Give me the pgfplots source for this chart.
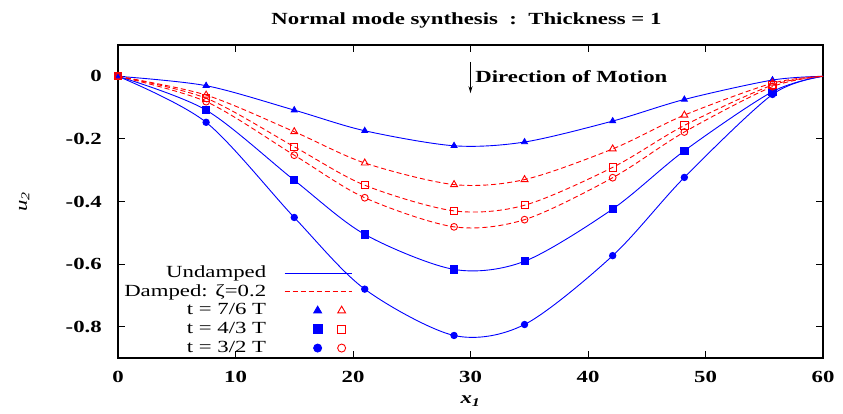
\documentclass[border=0pt]{standalone}
\usepackage{fontspec}
\setmainfont{Liberation Serif}[FakeStretch=1.34]
\usepackage{pgfplots}
\usepackage{pgfplotstable}
\pgfplotsset{compat=1.18}
\usetikzlibrary{arrows.meta}

% u_2 along the plate at three instants: undamped (u*) and damped, zeta=0.2 (d*)
% columns: t = 7/6 T (t), 4/3 T (s), 3/2 T (c)
\pgfplotstableread{
x     ut      us      uc      dt      ds      dc
0     0       0       0       0       0       0
7.5   -0.030  -0.108  -0.147  -0.060  -0.070  -0.081
15.0  -0.108  -0.332  -0.451  -0.177  -0.225  -0.252
21.0  -0.174  -0.505  -0.680  -0.277  -0.348  -0.388
28.6  -0.222  -0.617  -0.828  -0.346  -0.430  -0.481
34.6  -0.210  -0.591  -0.793  -0.330  -0.412  -0.458
42.1  -0.143  -0.424  -0.573  -0.232  -0.291  -0.324
48.2  -0.074  -0.238  -0.323  -0.124  -0.157  -0.178
55.7  -0.012  -0.049  -0.058  -0.022  -0.028  -0.033
60    0       0       0       0       0       0
}\modes

\definecolor{ublue}{RGB}{0,0,255}
\definecolor{dred}{RGB}{255,0,0}

\begin{document}
\begin{tikzpicture}
\begin{axis}[
  scale only axis,
  width=705pt, height=313pt,
  xmin=0, xmax=60, ymin=-0.9, ymax=0.1,
  xtick={0,10,...,60},
  ytick={-0.8,-0.6,-0.4,-0.2,0},
  tick align=inside,
  major tick length=7pt,
  axis line style={line width=1.2pt},
  tick style={black, line width=0.8pt},
  /pgf/number format/assume math mode=true,
  ticklabel style={font=\fontsize{17}{19}\selectfont\bfseries},
  yticklabel style={/pgf/number format/fixed, /pgf/number format/precision=1,
    inner sep=0pt, anchor=east, xshift=-16pt},
  xticklabel style={inner sep=0pt, anchor=north, yshift=-13pt},
  title={Normal mode synthesis\ \ :\ \ Thickness = 1},
  title style={font=\fontsize{17}{19}\selectfont\bfseries,
    at={(axis description cs:0.5,1)}, anchor=center, yshift=19pt, xshift=-4pt},
  xlabel={\textbf{\textit{x\textsubscript{1}}}},
  ylabel={\textit{u\textsubscript{2}}},
  every axis x label/.style={at={(axis description cs:0.5,0)}, anchor=center,
    yshift=-43pt, font=\fontsize{17}{19}\selectfont},
  every axis y label/.style={at={(axis description cs:-0.133,0.5)}, anchor=center,
    rotate=90, font=\fontsize{17}{19}\selectfont},
  legend plot pos=right,
  legend cell align=right,
  legend style={at={(axis cs:20.2,-0.9)}, anchor=south east, draw=none, fill=none,
    font=\fontsize{17}{19}\selectfont, row sep=3.2pt, column sep=18pt,
    nodes={inner sep=0pt, text height=12pt, text depth=3.5pt}},
  every axis plot/.append style={line width=0.9pt},
]
% undamped
\addplot[ublue, smooth, forget plot] table[x=x, y=ut] {\modes};
\addplot[ublue, smooth, forget plot] table[x=x, y=us] {\modes};
\addplot[ublue, smooth, forget plot] table[x=x, y=uc] {\modes};
\addplot[ublue, only marks, mark=triangle*, mark size=3.4pt, skip coords between index={9}{10}, forget plot] table[x=x, y=ut] {\modes};
\addplot[ublue, only marks, mark=square*, mark size=3.6pt, skip coords between index={9}{10}, forget plot] table[x=x, y=us] {\modes};
\addplot[ublue, only marks, mark=*, mark size=3.2pt, skip coords between index={9}{10}, forget plot] table[x=x, y=uc] {\modes};
% damped
\addplot[dred, smooth, dash pattern=on 5pt off 3pt, forget plot] table[x=x, y=dt] {\modes};
\addplot[dred, smooth, dash pattern=on 5pt off 3pt, forget plot] table[x=x, y=ds] {\modes};
\addplot[dred, smooth, dash pattern=on 5pt off 3pt, forget plot] table[x=x, y=dc] {\modes};
\addplot[dred, only marks, mark=triangle, mark size=4pt, mark options={dred, line width=0.9pt}, skip coords between index={9}{10}, forget plot] table[x=x, y=dt] {\modes};
\addplot[dred, only marks, mark=square, mark size=3.6pt, mark options={dred, line width=0.9pt}, skip coords between index={9}{10}, forget plot] table[x=x, y=ds] {\modes};
\addplot[dred, only marks, mark=o, mark size=3.4pt, mark options={dred, line width=0.9pt}, skip coords between index={9}{10}, forget plot] table[x=x, y=dc] {\modes};

% legend
\addlegendimage{ublue, line width=0.9pt, legend image code/.code={\draw[color=ublue, line width=0.9pt] (0pt,0pt) -- (67pt,0pt);}}
\addlegendentry{Undamped}
\addlegendimage{dred, line width=1pt, legend image code/.code={\draw[color=dred, line width=1pt, dash pattern=on 5pt off 3pt] (0pt,0.4pt) -- (67pt,0.4pt);}}
\addlegendentry{Damped: ζ=0.2}
\addlegendimage{legend image code/.code={
  \path (0pt,0pt) (67pt,0pt);
  \path[draw=ublue, fill=ublue] plot[mark=triangle*, mark size=4.5pt] coordinates {(33pt,0pt)};
  \path[draw=dred, line width=0.9pt] plot[mark=triangle, mark size=4.5pt] coordinates {(57pt,0pt)};}}
\addlegendentry{t = 7/6 T}
\addlegendimage{legend image code/.code={
  \path (0pt,0pt) (67pt,0pt);
  \path[draw=ublue, fill=ublue] plot[mark=square*, mark size=4.5pt] coordinates {(33pt,0pt)};
  \path[draw=dred, line width=0.9pt] plot[mark=square, mark size=4pt] coordinates {(57pt,0pt)};}}
\addlegendentry{t = 4/3 T}
\addlegendimage{legend image code/.code={
  \path (0pt,0pt) (67pt,0pt);
  \path[draw=ublue, fill=ublue] plot[mark=*, mark size=4pt] coordinates {(33pt,0pt)};
  \path[draw=dred, line width=0.9pt] plot[mark=o, mark size=4pt] coordinates {(57pt,0pt)};}}
\addlegendentry{t = 3/2 T}

% annotation
\draw[line width=0.8pt, -{Stealth[length=7pt, width=4pt]}] (axis cs:30,0.046) -- (axis cs:30,-0.054);
\node[anchor=west, inner sep=0pt, font=\fontsize{17}{19}\selectfont\bfseries] at (axis cs:30.4,0) {Direction of Motion};
\end{axis}
\path (current axis.south west) ++(-118pt,-55pt) rectangle ([shift={(20pt,45pt)}]current axis.north east);
\end{tikzpicture}
\end{document}
